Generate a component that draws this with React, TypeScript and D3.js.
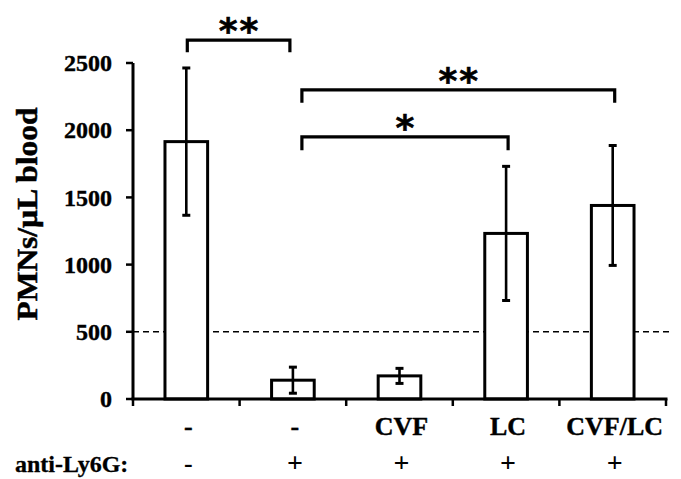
import React from "react";
import * as d3 from "d3";

const treatments = ["-", "-", "CVF", "LC", "CVF/LC"];
const antiLy6G = ["-", "+", "+", "+", "+"];
const means = [1915, 140, 172, 1232, 1440];
const sds = [548, 97, 56, 499, 446];
const yTicks = [0, 500, 1000, 1500, 2000, 2500];
const threshold = 500;

// significance brackets: from/to = category index, y = bracket level (data units)
const bracketFrom = [0, 1, 1];
const bracketTo = [1, 4, 3];
const bracketLevel = [2670, 2300, 1950];
const bracketDrop = [90, 95, 100];
const bracketLabel = ["**", "**", "*"];

const W = 681;
const H = 479;
const serif = "'Liberation Serif', 'Times New Roman', serif";

const App: React.FC = () => {
  const x = d3
    .scaleBand<number>()
    .domain(d3.range(treatments.length))
    .range([133, 666])
    .paddingInner(0.6)
    .paddingOuter(0.3);
  const y = d3.scaleLinear().domain([0, 2500]).range([399, 63]);
  const cx = (i: number) => (x(i) as number) + x.bandwidth() / 2;
  const step = x.step();
  const x0 = 133;
  const x1 = 666;

  return (
    <svg
      width={W}
      height={H}
      viewBox={`0 0 ${W} ${H}`}
      style={{ position: "absolute", left: 0, top: 0, background: "#fff" }}
    >
      {/* threshold line */}
      <line
        x1={x0}
        x2={x1 + 4}
        y1={y(threshold)}
        y2={y(threshold)}
        stroke="#000"
        strokeWidth={1.6}
        strokeDasharray="6,4"
      />

      {/* bars */}
      {means.map((m, i) => (
        <rect
          key={"b" + i}
          x={x(i)}
          y={y(m)}
          width={x.bandwidth()}
          height={y(0) - y(m)}
          fill="#fff"
          stroke="#000"
          strokeWidth={3}
        />
      ))}

      {/* error bars */}
      {means.map((m, i) => {
        const c = cx(i);
        const hi = y(m + sds[i]);
        const lo = y(Math.max(0, m - sds[i]));
        return (
          <g key={"e" + i} stroke="#000">
            <line x1={c} x2={c} y1={hi} y2={lo} strokeWidth={2.6} />
            <line x1={c - 4} x2={c + 4} y1={hi} y2={hi} strokeWidth={3} />
            <line x1={c - 4} x2={c + 4} y1={lo} y2={lo} strokeWidth={3} />
          </g>
        );
      })}

      {/* axes */}
      <line x1={x0} x2={x0} y1={y(0)} y2={y(2500)} stroke="#000" strokeWidth={3} />
      <line x1={x0 - 1.5} x2={x1 + 1.5} y1={y(0)} y2={y(0)} stroke="#000" strokeWidth={3} />
      {yTicks.map((t) => (
        <g key={"yt" + t}>
          <line x1={x0 - 7} x2={x0} y1={y(t)} y2={y(t)} stroke="#000" strokeWidth={2.5} />
          <text
            x={112}
            y={y(t)}
            dy="0.34em"
            textAnchor="end"
            fontFamily={serif}
            fontWeight="bold"
            fontSize={24}
            stroke="#000"
            strokeWidth={0.4}
          >
            {t}
          </text>
        </g>
      ))}
      {d3.range(treatments.length + 1).map((k) => (
        <line
          key={"xt" + k}
          x1={x0 + k * step}
          x2={x0 + k * step}
          y1={y(0)}
          y2={y(0) + 7}
          stroke="#000"
          strokeWidth={2.5}
        />
      ))}

      {/* category labels */}
      {treatments.map((t, i) => (
        <text
          key={"c" + i}
          x={cx(i) + 2}
          y={435}
          textAnchor="middle"
          fontFamily={serif}
          fontWeight="bold"
          fontSize={26}
          stroke="#000"
          strokeWidth={0.4}
        >
          {t}
        </text>
      ))}
      <text
        x={15}
        y={472}
        fontFamily={serif}
        fontWeight="bold"
        fontSize={24}
        stroke="#000"
        strokeWidth={0.3}
      >
        anti-Ly6G:
      </text>
      {antiLy6G.map((t, i) => (
        <text
          key={"a" + i}
          x={cx(i) + 2}
          y={472}
          textAnchor="middle"
          fontFamily={serif}
          fontWeight="bold"
          fontSize={t === "+" ? 28 : 26}
        >
          {t}
        </text>
      ))}

      {/* y axis title */}
      <text
        transform="translate(37,214) rotate(-90)"
        textAnchor="middle"
        fontFamily={serif}
        fontWeight="bold"
        fontSize={30}
        textLength={213}
        lengthAdjust="spacingAndGlyphs"
        stroke="#000"
        strokeWidth={0.5}
      >
        PMNs/µL blood
      </text>

      {/* significance brackets */}
      {bracketLevel.map((lv, k) => {
        const a = cx(bracketFrom[k]) + (bracketFrom[k] === 1 ? 9 : 1);
        const b = cx(bracketTo[k]) + (bracketTo[k] === 1 ? -3 : 2);
        const yb = y(lv);
        const ye = y(lv - bracketDrop[k]);
        return (
          <g key={"s" + k}>
            <path
              d={`M${a},${ye} V${yb} H${b} V${ye}`}
              fill="none"
              stroke="#000"
              strokeWidth={3.2}
            />
            <text
              x={(a + b) / 2 + 1}
              y={yb + 3}
              textAnchor="middle"
              fontFamily="'DejaVu Sans', sans-serif"
              fontWeight="bold"
              fontSize={36}
              letterSpacing={2}
              stroke="#000"
              strokeWidth={0.6}
            >
              {bracketLabel[k]}
            </text>
          </g>
        );
      })}
    </svg>
  );
};

export default App;
